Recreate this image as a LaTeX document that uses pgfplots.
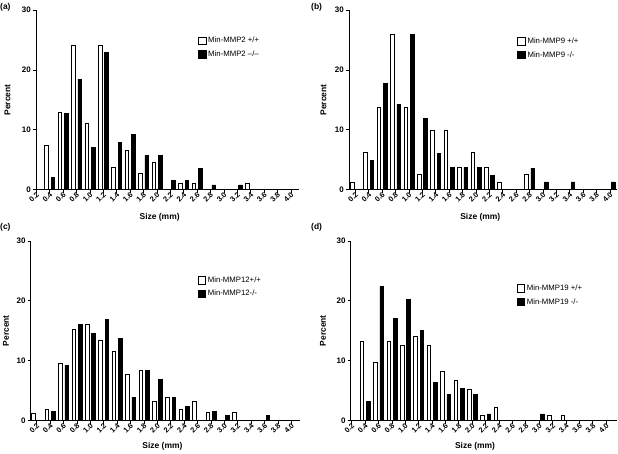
\documentclass[border=0pt]{standalone}
\usepackage{pgfplots}
\pgfplotsset{compat=1.18}
\usepackage{fontspec}
\setmainfont{Liberation Sans}

\pgfplotsset{
  sqlegend/.style={legend image code/.code={\draw[##1,line width=0.7bp] (0bp,-3.8bp) rectangle (7.6bp,3.8bp);}},
  wbar/.style={ybar, bar width=3.6bp, bar shift=-3.2bp, fill=white, draw=black, line width=0.7bp, sqlegend},
  bbar/.style={ybar, bar width=3.6bp, bar shift=3.2bp, fill=black, draw=black, line width=0.7bp, sqlegend},
  panel/.style={
    scale only axis, anchor=south west, height=179.5bp,
    axis x line*=bottom, axis y line*=left,
    axis line style={line width=0.8bp, -},
    ymin=0, ymax=30, ytick={0,10,20,30}, yticklabels={0,10,20,30},
    xtick={0.2,0.4,0.6,0.8,1.0,1.2,1.4,1.6,1.8,2.0,2.2,2.4,2.6,2.8,3.0,3.2,3.4,3.6,3.8,4.0},
    xticklabels={0.2,0.4,0.6,0.8,1.0,1.2,1.4,1.6,1.8,2.0,2.2,2.4,2.6,2.8,3.0,3.2,3.4,3.6,3.8,4.0},
    tick align=outside, major tick length=3bp,
    tick style={line width=0.8bp, black},
    tick label style={font=\fontsize{8}{9}\selectfont\bfseries},
    xticklabel style={font=\fontsize{7.4}{8}\selectfont\bfseries, rotate=45, anchor=east, inner sep=0pt, yshift=-1.5bp, xshift=0.5bp},
    yticklabel style={inner sep=2bp},
    label style={font=\fontsize{8.5}{10}\selectfont\bfseries},
    ylabel={Percent}, xlabel={Size (mm)},
    legend style={draw=none, fill=none, font=\fontsize{7.8}{9}\selectfont, anchor=north west, inner sep=0pt, row sep=2.3bp},
    legend cell align=left,
    clip=false,
  },
}

\begin{document}
\begin{tikzpicture}
\useasboundingbox (0,0) rectangle (618bp,454bp);

% (a)
\begin{axis}[panel, at={(36bp,264.3bp)}, width=263bp, xmin=0.195, xmax=4.12,
  x label style={at={(axis description cs:0.47,-0.155)}, anchor=center},
  y label style={at={(axis description cs:-0.108,0.5)}, anchor=center},
  legend style={at={(axis description cs:0.615,0.862)}}]
\addplot[wbar] coordinates {(0.4,7.4)(0.6,13.0)(0.8,24.1)(1.0,11.1)(1.2,24.1)(1.4,3.7)(1.6,6.5)(1.8,2.8)(2.0,4.6)(2.4,1.0)(2.6,1.0)(3.4,1.0)};
\addplot[bbar] coordinates {(0.4,2.1)(0.6,12.8)(0.8,18.5)(1.0,7.1)(1.2,22.9)(1.4,7.9)(1.6,9.3)(1.8,5.7)(2.0,5.7)(2.2,1.5)(2.4,1.5)(2.6,3.6)(2.8,0.8)(3.2,0.8)};
\legend{Min-MMP2 +/+, Min-MMP2 –/–}
\end{axis}

% (b)
\begin{axis}[panel, at={(349bp,264.3bp)}, width=268bp, xmin=0.105, xmax=4.105,
  x label style={at={(axis description cs:0.49,-0.152)}, anchor=center},
  y label style={at={(axis description cs:-0.095,0.5)}, anchor=center},
  legend style={at={(axis description cs:0.627,0.857)}}]
\addplot[wbar] coordinates {(0.2,1.3)(0.4,6.2)(0.6,13.7)(0.8,26.0)(1.0,13.7)(1.2,2.5)(1.4,10.0)(1.6,10.0)(1.8,3.7)(2.0,6.2)(2.2,3.7)(2.4,1.3)(2.8,2.5)};
\addplot[bbar] coordinates {(0.4,4.9)(0.6,17.8)(0.8,14.3)(1.0,26.0)(1.2,11.9)(1.4,6.0)(1.6,3.7)(1.8,3.7)(2.0,3.7)(2.2,2.4)(2.8,3.6)(3.0,1.3)(3.4,1.3)(4.0,1.3)};
\legend{Min-MMP9 +/+, Min-MMP9 -/-}
\end{axis}

% (c)
\begin{axis}[panel, at={(30.7bp,33.5bp)}, width=268.8bp, xmin=0.11, xmax=4.12,
  x label style={at={(axis description cs:0.49,-0.142)}, anchor=center},
  y label style={at={(axis description cs:-0.092,0.5)}, anchor=center},
  legend style={at={(axis description cs:0.62,0.812)}}]
\addplot[wbar] coordinates {(0.2,1.2)(0.4,1.9)(0.6,9.6)(0.8,15.3)(1.0,16.1)(1.2,13.4)(1.4,11.5)(1.6,7.7)(1.8,8.3)(2.0,3.2)(2.2,3.8)(2.4,1.9)(2.6,3.2)(2.8,1.3)(3.2,1.3)};
\addplot[bbar] coordinates {(0.4,1.5)(0.6,9.2)(0.8,16.1)(1.0,14.6)(1.2,16.9)(1.4,13.7)(1.6,3.8)(1.8,8.4)(2.0,6.9)(2.2,3.8)(2.4,2.3)(2.8,1.5)(3.0,0.8)(3.6,0.8)};
\legend{Min-MMP12+/+, Min-MMP12-/-}
\end{axis}

% (d)
\begin{axis}[panel, at={(350.7bp,33.5bp)}, width=266.3bp, xmin=0.185, xmax=4.16,
  x label style={at={(axis description cs:0.467,-0.142)}, anchor=center},
  y label style={at={(axis description cs:-0.104,0.5)}, anchor=center},
  legend style={at={(axis description cs:0.622,0.767)}}]
\addplot[wbar] coordinates {(0.4,13.3)(0.6,9.7)(0.8,13.3)(1.0,12.6)(1.2,14.1)(1.4,12.6)(1.6,8.2)(1.8,6.7)(2.0,5.2)(2.2,0.8)(2.4,2.2)(3.2,0.8)(3.4,0.8)};
\addplot[bbar] coordinates {(0.4,3.2)(0.6,22.4)(0.8,17.1)(1.0,20.3)(1.2,15.0)(1.4,6.4)(1.6,4.3)(1.8,5.4)(2.0,4.3)(2.2,1.1)(3.0,1.1)};
\legend{Min-MMP19 +/+, Min-MMP19 -/-}
\end{axis}

\node[anchor=north west, inner sep=0pt, font=\fontsize{8.5}{10}\selectfont\bfseries] at (0bp,451bp) {(a)};
\node[anchor=north west, inner sep=0pt, font=\fontsize{8.5}{10}\selectfont\bfseries] at (311bp,451bp) {(b)};
\node[anchor=north west, inner sep=0pt, font=\fontsize{8.5}{10}\selectfont\bfseries] at (0bp,231bp) {(c)};
\node[anchor=north west, inner sep=0pt, font=\fontsize{8.5}{10}\selectfont\bfseries] at (311bp,231bp) {(d)};
\end{tikzpicture}
\end{document}
